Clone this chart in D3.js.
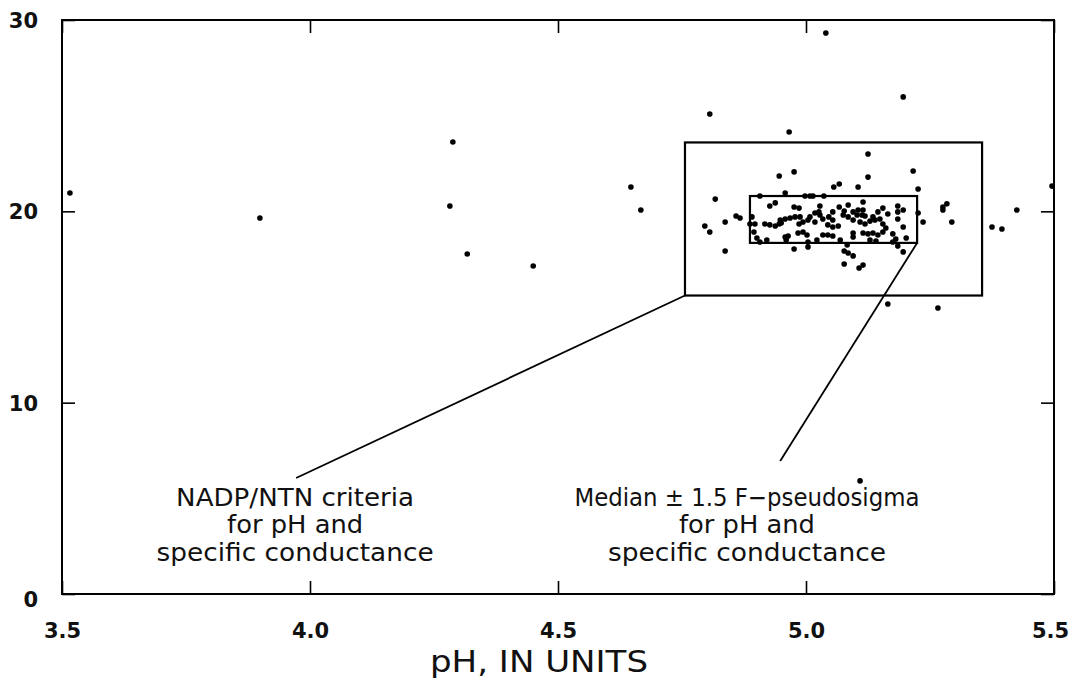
<!DOCTYPE html>
<html><head><meta charset="utf-8">
<script src="https://cdn.jsdelivr.net/npm/d3@7"></script>
<style>
html,body{margin:0;padding:0;background:#fff;}
svg{display:block;}
</style>
</head><body>
<script>
// ---- data ----
const xTicks = [3.5, 4.0, 4.5, 5.0, 5.5];
const yTicks = [0, 10, 20, 30];
const xTitle = "pH, IN UNITS";
const pHValues = [
 3.516,3.899,4.282,4.288,4.317,4.450,4.647,4.667,4.806,5.040,5.196,4.966,5.496,5.425,5.375,5.395,5.266,5.165,5.109,
 5.125,4.946,4.976,5.056,5.067,5.105,5.125,5.216,5.226,4.817,4.859,4.867,4.837,4.796,4.806,4.837,4.976,5.004,5.077,
 5.085,5.095,5.077,5.107,5.115,5.185,5.196,5.226,5.236,5.276,5.284,5.276,5.294,4.958,
 4.907,4.998,5.008,5.014,5.036,5.115,4.927,4.938,4.976,4.986,5.018,5.026,5.054,5.067,5.077,5.085,5.095,5.105,5.115,
 5.103,5.113,5.155,5.145,5.135,5.165,5.185,4.948,4.958,4.968,4.978,4.988,4.917,4.927,4.938,4.946,4.950,4.986,4.994,
 5.004,5.008,5.028,5.034,5.046,5.054,5.044,5.054,5.065,5.085,5.095,5.109,5.119,5.129,5.139,5.149,5.155,5.185,5.185,
 5.196,4.984,4.994,5.002,5.034,5.044,5.054,5.095,5.095,5.115,5.125,5.135,5.145,5.155,5.175,4.958,4.964,4.897,4.887,
 4.891,4.895,4.901,4.907,5.004,4.960,4.921,5.175,5.141,5.083,5.069,
 5.018,5.075,5.119,5.161,5.022,5.129,5.196,5.202,5.181,5.028
];
const condValues = [
 20.96,19.65,20.28,23.62,17.77,17.14,21.27,20.07,25.09,29.32,25.98,24.15,21.32,20.07,19.18,19.08,14.95,15.16,5.91,
 23.00,21.85,22.06,21.27,21.43,21.27,21.79,22.11,21.17,20.64,19.76,19.65,19.44,19.23,18.92,17.93,18.03,18.14,17.93,
 17.82,17.67,17.25,17.04,17.19,18.19,17.88,19.91,19.44,20.23,20.39,20.07,19.44,20.96,
 20.80,20.80,20.80,20.80,20.80,20.49,20.28,20.44,20.23,20.17,19.91,19.97,19.97,20.23,20.02,20.33,19.97,20.07,20.07,
 19.81,19.81,20.17,19.97,19.71,19.86,20.28,19.55,19.60,19.65,19.71,19.71,19.34,19.29,19.23,19.34,19.39,19.34,19.44,
 19.55,19.71,19.81,19.60,19.71,19.55,19.29,19.18,19.23,19.71,19.55,19.44,19.34,19.49,19.55,19.60,19.34,19.60,19.97,
 19.18,18.87,18.92,18.76,18.76,18.76,18.71,18.87,18.66,18.87,18.82,18.87,18.76,18.92,18.82,18.66,18.71,19.34,19.34,
 19.71,18.92,18.61,18.40,18.40,18.50,18.50,18.40,18.45,18.24,18.50,
 19.44,19.81,19.76,19.13,18.50,18.50,20.07,18.61,18.55,20.28
];
// box limits [pH low, pH high, cond low, cond high]
const criteriaBox = [4.756, 5.355, 15.6, 23.6];
const pseudoBox = [4.887, 5.224, 18.35, 20.8];
// leader line ends (pH, conductance)
const criteriaLeaderEnd = [3.972, 6.06];
const pseudoLeaderEnd = [4.948, 6.95];
const criteriaLabel = ["NADP/NTN criteria", "for pH and", "specific conductance"];
const pseudoLabel = ["Median \u00B1 1.5 F\u2212pseudosigma", "for pH and", "specific conductance"];
const criteriaLabelPos = [3.970, 4.6];
const pseudoLabelPos = [4.881, 4.6];

// ---- chart ----
const W = 1072, H = 678;
const svg = d3.select("body").append("svg").attr("width", W).attr("height", H);
const x = d3.scaleLinear().domain([3.5, 5.5]).range([62, 1054]);
const y = d3.scaleLinear().domain([0, 30]).range([594, 20]);
const fontTick = "'DejaVu Sans','Liberation Sans',sans-serif";
const fontNote = "'DejaVu Sans','Noto Sans',sans-serif";

// axes
const gB = svg.append("g").attr("transform", `translate(0,${y(0)})`)
  .call(d3.axisBottom(x).tickValues(xTicks).tickSize(-13).tickPadding(29).tickFormat(d3.format(".1f")));
const gT = svg.append("g").attr("transform", `translate(0,${y(30)})`)
  .call(d3.axisTop(x).tickValues(xTicks).tickSize(-13).tickFormat(""));
const gL = svg.append("g").attr("transform", `translate(${x(3.5)},0)`)
  .call(d3.axisLeft(y).tickValues(yTicks).tickSize(-13).tickPadding(24).tickFormat(d3.format("d")));
const gR = svg.append("g").attr("transform", `translate(${x(5.5)},0)`)
  .call(d3.axisRight(y).tickValues(yTicks).tickSize(-13).tickFormat(""));
[gB, gT, gL, gR].forEach(g => {
  g.select(".domain").remove();
  g.selectAll(".tick line").attr("stroke", "#000").attr("stroke-width", 1.6);
  g.selectAll("text").attr("fill", "#111").attr("font-family", fontTick)
    .attr("font-weight", "bold").attr("font-size", 21);
});
gL.selectAll(".tick text").attr("dy", "0.36em");
gL.selectAll(".tick").filter(d => d === 0).select("text").attr("dy", "0.6em");
gB.selectAll(".tick").filter(d => d === 5.5).select("text").attr("dx", -4);

// frame
svg.append("rect").attr("x", x(3.5)).attr("y", y(30))
  .attr("width", x(5.5) - x(3.5)).attr("height", y(0) - y(30))
  .attr("fill", "none").attr("stroke", "#000").attr("stroke-width", 2);

// x title
svg.append("text").attr("x", (x(3.5) + x(5.5)) / 2 - 19).attr("y", 672)
  .attr("text-anchor", "middle").attr("font-family", fontTick).attr("font-size", 30)
  .attr("textLength", 218).attr("lengthAdjust", "spacingAndGlyphs")
  .attr("fill", "#111").text(xTitle);

// boxes
function drawBox(b) {
  svg.append("rect").attr("x", x(b[0])).attr("y", y(b[3]))
    .attr("width", x(b[1]) - x(b[0])).attr("height", y(b[2]) - y(b[3]))
    .attr("fill", "none").attr("stroke", "#000").attr("stroke-width", 2.2);
}
drawBox(criteriaBox);
drawBox(pseudoBox);

// leader lines
svg.append("line").attr("x1", x(criteriaBox[0])).attr("y1", y(criteriaBox[2]))
  .attr("x2", x(criteriaLeaderEnd[0])).attr("y2", y(criteriaLeaderEnd[1]))
  .attr("stroke", "#000").attr("stroke-width", 1.8);
svg.append("line").attr("x1", x(pseudoBox[1])).attr("y1", y(pseudoBox[2]))
  .attr("x2", x(pseudoLeaderEnd[0])).attr("y2", y(pseudoLeaderEnd[1]))
  .attr("stroke", "#000").attr("stroke-width", 1.8);

// points
const pts = pHValues.map((p, i) => [p, condValues[i]]);
svg.append("g").selectAll("circle").data(pts).join("circle")
  .attr("cx", d => x(d[0])).attr("cy", d => y(d[1])).attr("r", 2.8).attr("fill", "#000");

// annotations
const widthsA = [238, 136, 277];
const widthsB = [345, 136, 278];
function label(lines, pos, widths) {
  const t = svg.append("text").attr("text-anchor", "middle")
    .attr("font-family", fontNote).attr("font-size", 25).attr("fill", "#111");
  lines.forEach((s, i) => {
    t.append("tspan").attr("x", x(pos[0])).attr("y", y(pos[1]) + i * 27.5)
      .attr("textLength", widths[i]).attr("lengthAdjust", "spacingAndGlyphs").text(s);
  });
}
label(criteriaLabel, criteriaLabelPos, widthsA);
label(pseudoLabel, pseudoLabelPos, widthsB);
</script>
</body></html>
